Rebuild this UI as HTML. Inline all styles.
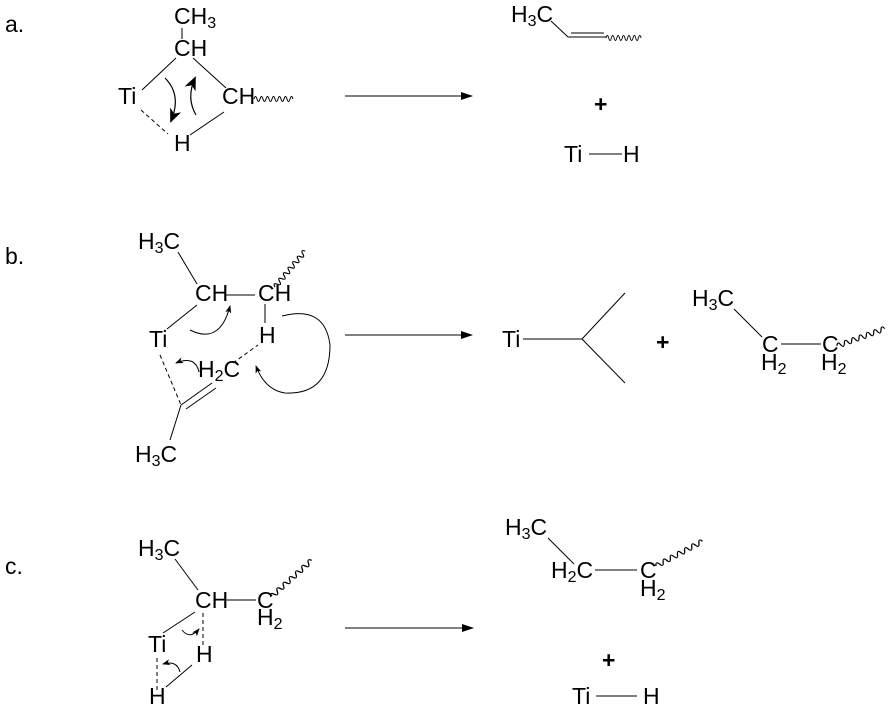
<!DOCTYPE html>
<html><head><meta charset="utf-8"><style>
html,body{margin:0;padding:0;background:#fff}
svg{display:block}
</style></head><body>
<svg width="896" height="714" viewBox="0 0 896 714" xmlns="http://www.w3.org/2000/svg">
<defs>
<marker id="ah" markerWidth="12" markerHeight="8" refX="11" refY="4" orient="auto" markerUnits="userSpaceOnUse"><path d="M0,0 L12,4 L0,8 z" fill="#000"/></marker>
<marker id="sh" markerWidth="8" markerHeight="8" refX="7" refY="4" orient="auto" markerUnits="userSpaceOnUse"><path d="M0,1 L8,4 L0,7 L2,4 z" fill="#000"/></marker>
<marker id="bh" markerWidth="14" markerHeight="12" refX="12" refY="6" orient="auto" markerUnits="userSpaceOnUse"><path d="M0,0 L14,6 L0,12 L4,6 z" fill="#000"/></marker>
<path id="wv" d="M0 0 q1.5 -5 3 0 t3 0 t3 0 t3 0 t3 0 t3 0 t3 0 t3 0 t3 0 t3 0 t3 0 t3 0 t3 0" fill="none" stroke="#000" stroke-width="1"/>
</defs>
<g stroke="#000" stroke-width="1" fill="none">
<line x1="182" y1="28" x2="182" y2="39"/>
<line x1="176" y1="58" x2="142" y2="90"/>
<line x1="193" y1="58" x2="226" y2="88"/>
<line x1="141" y1="110" x2="168" y2="134" stroke-dasharray="4,3"/>
<line x1="190" y1="135" x2="224" y2="112"/>
<path d="M165 78 Q182 95 171 121" marker-end="url(#bh)" stroke-width="1.2"/>
<path d="M196 115 Q186 98 195 78" marker-end="url(#bh)" stroke-width="1.2"/>
<line x1="345" y1="96" x2="472" y2="96" marker-end="url(#ah)"/>
<line x1="551" y1="21" x2="568" y2="37"/>
<line x1="568" y1="37" x2="606" y2="37"/>
<line x1="571" y1="33" x2="604" y2="33"/>
<line x1="589" y1="154" x2="622" y2="154"/>
<line x1="178" y1="252" x2="197" y2="284"/>
<line x1="225" y1="295" x2="255" y2="295"/>
<line x1="265" y1="304" x2="265" y2="323"/>
<line x1="197" y1="305" x2="167" y2="329"/>
<line x1="160" y1="355" x2="181" y2="405" stroke-dasharray="4,3"/>
<line x1="233" y1="363" x2="258" y2="345" stroke-dasharray="4,3"/>
<line x1="212" y1="383" x2="181" y2="405"/>
<line x1="216" y1="388" x2="186" y2="409"/>
<line x1="181" y1="405" x2="170" y2="440"/>
<path d="M190 330 Q220 345 230 306" marker-end="url(#sh)"/>
<path d="M199 372 Q195 355 176 363" marker-end="url(#sh)"/>
<path d="M282 316 Q325 305 330 345 Q330 395 285 393 Q265 390 256 366" marker-end="url(#sh)"/>
<line x1="345" y1="335" x2="472" y2="335" marker-end="url(#ah)"/>
<line x1="523" y1="339" x2="582" y2="339"/>
<line x1="582" y1="339" x2="625" y2="293"/>
<line x1="582" y1="339" x2="625" y2="383"/>
<line x1="734" y1="309" x2="762" y2="337"/>
<line x1="781" y1="344" x2="821" y2="344"/>
<line x1="175" y1="559" x2="198" y2="590"/>
<line x1="224" y1="600" x2="256" y2="600"/>
<line x1="195" y1="612" x2="163" y2="633"/>
<line x1="203" y1="613" x2="203" y2="645" stroke-dasharray="4,3"/>
<line x1="157" y1="658" x2="157" y2="690" stroke-dasharray="4,3"/>
<line x1="166" y1="687" x2="192" y2="665"/>
<path d="M182 630 Q190 640 199 629" marker-end="url(#sh)"/>
<path d="M180 672 Q177 660 163 664" marker-end="url(#sh)"/>
<line x1="345" y1="628" x2="473" y2="628" marker-end="url(#ah)"/>
<line x1="548" y1="538" x2="574" y2="564"/>
<line x1="595" y1="570" x2="637" y2="570"/>
<line x1="596" y1="696" x2="637" y2="696"/>
</g>
<use href="#wv" transform="translate(254,99)"/>
<use href="#wv" transform="translate(606,38) scale(0.9,1)"/>
<use href="#wv" transform="translate(275,287) rotate(-50) scale(1.2,1)"/>
<use href="#wv" transform="translate(837,346) rotate(-20) scale(1.3,1)"/>
<use href="#wv" transform="translate(271,597) rotate(-42) scale(1.4,1)"/>
<use href="#wv" transform="translate(656,566) rotate(-28) scale(1.35,1)"/>
<g font-family="Liberation Sans, Arial, sans-serif" font-size="23" fill="#000">
<text x="5" y="32">a.</text>
<text x="174" y="24">CH<tspan font-size="16" dy="4">3</tspan></text>
<text x="174" y="56">CH</text>
<text x="118" y="104">Ti</text>
<text x="222" y="104">CH</text>
<text x="174" y="151">H</text>
<text x="511" y="22">H<tspan font-size="16" dy="4">3</tspan><tspan dy="-4">C</tspan></text>
<text x="594" y="112" font-weight="bold">+</text>
<text x="564" y="162">Ti</text>
<text x="623" y="162">H</text>
<text x="5" y="264">b.</text>
<text x="138" y="249">H<tspan font-size="16" dy="4">3</tspan><tspan dy="-4">C</tspan></text>
<text x="195" y="301">CH</text>
<text x="258" y="301">CH</text>
<text x="259" y="343">H</text>
<text x="149" y="347">Ti</text>
<text x="198" y="377">H<tspan font-size="16" dy="4">2</tspan><tspan dy="-4">C</tspan></text>
<text x="135" y="462">H<tspan font-size="16" dy="4">3</tspan><tspan dy="-4">C</tspan></text>
<text x="502" y="347">Ti</text>
<text x="656" y="350" font-weight="bold">+</text>
<text x="692" y="306">H<tspan font-size="16" dy="4">3</tspan><tspan dy="-4">C</tspan></text>
<text x="762" y="352">C</text>
<text x="761" y="370">H<tspan font-size="16" dy="4">2</tspan></text>
<text x="822" y="352">C</text>
<text x="821" y="370">H<tspan font-size="16" dy="4">2</tspan></text>
<text x="5" y="574">c.</text>
<text x="138" y="556">H<tspan font-size="16" dy="4">3</tspan><tspan dy="-4">C</tspan></text>
<text x="195" y="608">CH</text>
<text x="257" y="608">C</text>
<text x="257" y="625">H<tspan font-size="16" dy="4">2</tspan></text>
<text x="148" y="652">Ti</text>
<text x="196" y="662">H</text>
<text x="149" y="704">H</text>
<text x="505" y="535">H<tspan font-size="16" dy="4">3</tspan><tspan dy="-4">C</tspan></text>
<text x="551" y="578">H<tspan font-size="16" dy="4">2</tspan><tspan dy="-4">C</tspan></text>
<text x="640" y="578">C</text>
<text x="640" y="596">H<tspan font-size="16" dy="4">2</tspan></text>
<text x="602" y="668" font-weight="bold">+</text>
<text x="572" y="704">Ti</text>
<text x="643" y="704">H</text>
</g>
</svg>
</body></html>
